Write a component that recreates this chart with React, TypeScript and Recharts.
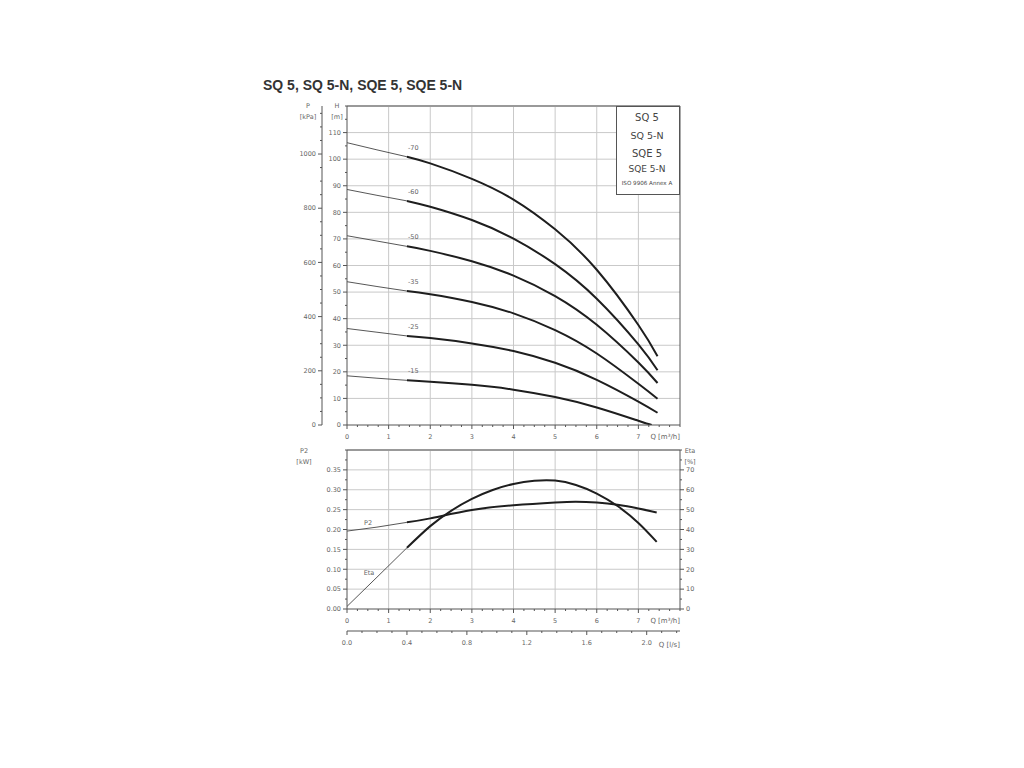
import React from "react";
import { LineChart, Line, XAxis, YAxis, CartesianGrid, ReferenceLine } from "recharts";

// ---- data ----
const flowLabels = [0, 1, 2, 3, 4, 5, 6, 7];
const flowGrid = [1, 2, 3, 4, 5, 6, 7];
const litreLabels = [0, 0.4, 0.8, 1.2, 1.6, 2.0];

const headLabels = [0, 10, 20, 30, 40, 50, 60, 70, 80, 90, 100, 110];
const kpaLabels = [0, 200, 400, 600, 800, 1000];
const p2Labels = [0, 0.05, 0.1, 0.15, 0.2, 0.25, 0.3, 0.35];
const etaLabels = [0, 10, 20, 30, 40, 50, 60, 70];

const curveNames = ["-70", "-60", "-50", "-35", "-25", "-15"];
const headQ = [0, 0.72, 1.44, 2, 3, 4, 5, 6, 7];
const head70 = [106.2, 103.5, 100.9, 98.4, 92.6, 84.8, 73.6, 58.4, 37.6];
const head60 = [88.6, 86.4, 84.3, 82.1, 77.1, 70.1, 60.5, 47.5, 30.3];
const head50 = [71.2, 69.2, 67.2, 65.5, 61.6, 56.2, 48.5, 37.7, 23.5];
const head35 = [53.9, 52.1, 50.4, 49.2, 46.3, 42.0, 35.7, 26.9, 15.5];
const head25 = [36.3, 34.9, 33.5, 32.7, 30.7, 27.8, 23.4, 17.0, 8.8];
const head15 = [18.5, 17.6, 16.8, 16.3, 15.1, 13.3, 10.5, 6.6, 1.6];
const headEndQ = [7.46, 7.46, 7.46, 7.46, 7.46, 7.32];
const headEndH = [25.9, 20.6, 15.8, 9.9, 4.6, 0];

const p2Q = [0, 0.72, 1.44, 2, 3, 4, 5, 5.5, 6, 6.5, 7, 7.44];
const p2Kw = [0.196, 0.206, 0.218, 0.228, 0.249, 0.261, 0.268, 0.27, 0.268, 0.2625, 0.253, 0.243];
const etaQ = [0, 0.72, 1.44, 2, 2.5, 3, 3.5, 4, 4.5, 5, 5.5, 6, 6.5, 7, 7.44];
const etaPct = [1.3, 16, 30.8, 41.7, 49.4, 55.4, 59.9, 62.9, 64.5, 64.6, 62.4, 58.1, 51.8, 43.3, 33.8];

const BREAK_Q = 1.44; // thin below, thick above (0.4 l/s)
const KPA_PER_M = 9.81;
const M3H_PER_LS = 3.6;
const heads = [head70, head60, head50, head35, head25, head15];

const FONT = "'DejaVu Sans', sans-serif";
const AXIS = "#555";
const GRID = "#c9c9c9";
const TXT = "#666";

const steps = (max: number, step: number) => {
  const out: number[] = [];
  for (let v = 0; v <= max + 1e-9; v += step) out.push(Math.round(v * 1000) / 1000);
  return out;
};
const near = (a: number[], v: number) => a.some((t) => Math.abs(t - v) < 1e-6);

function makeTick(side: "left" | "right" | "bottom", labels: number[], fmt: (v: number) => string) {
  return (props: any) => {
    const { x, y, payload } = props;
    const v = payload.value;
    const lab = near(labels, v);
    const len = lab ? 4 : 2;
    const t = { fontSize: 6.5, fill: TXT, fontFamily: FONT };
    if (side === "left")
      return (
        <g>
          <line x1={x - len} x2={x} y1={y} y2={y} stroke={AXIS} />
          {lab && <text x={x - 6} y={y} dy="0.35em" textAnchor="end" {...t}>{fmt(v)}</text>}
        </g>
      );
    if (side === "right")
      return (
        <g>
          <line x1={x} x2={x + len} y1={y} y2={y} stroke={AXIS} />
          {lab && <text x={x + 6} y={y} dy="0.35em" textAnchor="start" {...t}>{fmt(v)}</text>}
        </g>
      );
    return (
      <g>
        <line x1={x} x2={x} y1={y} y2={y + len} stroke={AXIS} />
        {lab && <text x={x} y={y + 14} textAnchor="middle" {...t}>{fmt(v)}</text>}
      </g>
    );
  };
}

const curves = curveNames.map((name, i) => {
  const pts = headQ.map((q, j) => ({ q, h: heads[i][j] }));
  pts.push({ q: headEndQ[i], h: headEndH[i] });
  return {
    name,
    thin: pts.filter((p) => p.q <= BREAK_Q),
    thick: pts.filter((p) => p.q >= BREAK_Q),
  };
});
// same top curve in kPa, only to give the pressure axis its scale
const kpaPts = curves[0].thick.map((p) => ({ q: p.q, kpa: p.h * KPA_PER_M }));

const p2Pts = p2Q.map((q, i) => ({ q, ls: q / M3H_PER_LS, v: p2Kw[i] }));
const etaPts = etaQ.map((q, i) => ({ q, v: etaPct[i] }));

function Txt({ x, y, size = 6.5, children, align = "center", bold = false, family = FONT, color = TXT }: any) {
  const shift = align === "center" ? "-50%" : align === "right" ? "-100%" : "0";
  return (
    <div
      style={{
        position: "absolute",
        left: x,
        top: y,
        transform: `translate(${shift}, -50%)`,
        fontSize: size,
        fontFamily: family,
        fontWeight: bold ? 700 : 400,
        color,
        whiteSpace: "nowrap",
        lineHeight: 1,
      }}
    >
      {children}
    </div>
  );
}

const curveLabel = (name: string) => (p: any) =>
  p.index === 0 ? (
    <text x={p.x + 1} y={p.y - 7} fontSize={6.5} fill={TXT} fontFamily={FONT}>
      {name}
    </text>
  ) : (
    <g />
  );

export default function App() {
  const qTicks = steps(8, 0.25);
  return (
    <div style={{ position: "absolute", left: 0, top: 0, width: 1024, height: 768, background: "#fff" }}>
      <Txt x={263} y={85} size={14} bold align="left" family="'Liberation Sans', Arial, sans-serif" color="#333">
        SQ 5, SQ 5-N, SQE 5, SQE 5-N
      </Txt>

      {/* head chart */}
      <div style={{ position: "absolute", left: 0, top: 0 }}>
        <LineChart width={1024} height={460} margin={{ top: 106, right: 344, bottom: 15, left: 282 }}>
          <CartesianGrid
            xAxisId="q"
            yAxisId="h"
            stroke={GRID}
            horizontalValues={headLabels.slice(1)}
            verticalValues={flowGrid}
          />
          <XAxis
            xAxisId="q"
            type="number"
            dataKey="q"
            domain={[0, 8]}
            ticks={qTicks}
            interval={0}
            height={20}
            tickSize={0}
            tickMargin={0}
            stroke={AXIS}
            tick={makeTick("bottom", flowLabels, (v) => String(v))}
          />
          <YAxis
            yAxisId="h"
            type="number"
            domain={[0, 120]}
            allowDataOverflow
            ticks={steps(120, 5)}
            interval={0}
            width={25}
            tickSize={0}
            tickMargin={0}
            stroke={AXIS}
            tick={makeTick("left", headLabels, (v) => String(v))}
          />
          <YAxis
            yAxisId="kpa"
            type="number"
            domain={[0, 120 * KPA_PER_M]}
            allowDataOverflow
            ticks={steps(1150, 50)}
            interval={0}
            width={40}
            tickSize={0}
            tickMargin={0}
            stroke={AXIS}
            tick={makeTick("left", kpaLabels, (v) => String(v))}
          />
          <ReferenceLine xAxisId="q" yAxisId="h" y={120} stroke="#999" strokeWidth={2} />
          <ReferenceLine xAxisId="q" yAxisId="h" x={8} stroke={AXIS} />
          <Line
            xAxisId="q"
            yAxisId="kpa"
            data={kpaPts}
            dataKey="kpa"
            stroke="none"
            dot={false}
            activeDot={false}
            isAnimationActive={false}
          />
          {curves.map((c) => (
            <Line
              key={c.name + "a"}
              xAxisId="q"
              yAxisId="h"
              data={c.thin}
              dataKey="h"
              type="linear"
              stroke="#444"
              strokeWidth={0.9}
              dot={false}
              isAnimationActive={false}
            />
          ))}
          {curves.map((c) => (
            <Line
              key={c.name + "b"}
              xAxisId="q"
              yAxisId="h"
              data={c.thick}
              dataKey="h"
              type="natural"
              stroke="#1e1e1e"
              strokeWidth={2}
              dot={false}
              label={curveLabel(c.name)}
              isAnimationActive={false}
            />
          ))}
        </LineChart>
      </div>

      {/* power / efficiency chart */}
      <div style={{ position: "absolute", left: 0, top: 430 }}>
        <LineChart width={1024} height={250} margin={{ top: 20, right: 304, bottom: 24, left: 297 }}>
          <CartesianGrid
            xAxisId="flow"
            yAxisId="p2"
            stroke={GRID}
            horizontalValues={p2Labels.slice(1)}
            verticalValues={flowGrid}
          />
          <XAxis
            xAxisId="flow"
            type="number"
            dataKey="q"
            domain={[0, 8]}
            ticks={qTicks}
            interval={0}
            height={22}
            tickSize={0}
            tickMargin={0}
            stroke={AXIS}
            tick={makeTick("bottom", flowLabels, (v) => String(v))}
          />
          <XAxis
            xAxisId="litre"
            type="number"
            dataKey="ls"
            domain={[0, 8 / M3H_PER_LS]}
            allowDataOverflow
            ticks={steps(2.2, 0.1)}
            interval={0}
            height={25}
            tickSize={0}
            tickMargin={0}
            stroke={AXIS}
            tick={makeTick("bottom", litreLabels, (v) => v.toFixed(1))}
          />
          <YAxis
            yAxisId="p2"
            type="number"
            domain={[0, 0.4]}
            allowDataOverflow
            ticks={steps(0.4, 0.025)}
            interval={0}
            width={50}
            tickSize={0}
            tickMargin={0}
            stroke={AXIS}
            tick={makeTick("left", p2Labels, (v) => v.toFixed(2))}
          />
          <YAxis
            yAxisId="eta"
            orientation="right"
            type="number"
            domain={[0, 80]}
            allowDataOverflow
            ticks={steps(80, 5)}
            interval={0}
            width={40}
            tickSize={0}
            tickMargin={0}
            stroke={AXIS}
            tick={makeTick("right", etaLabels, (v) => String(v))}
          />
          <ReferenceLine xAxisId="flow" yAxisId="p2" y={0.4} stroke="#999" strokeWidth={2} />
          <Line
            xAxisId="litre"
            yAxisId="p2"
            data={p2Pts}
            dataKey="v"
            stroke="none"
            dot={false}
            activeDot={false}
            isAnimationActive={false}
          />
          <Line
            xAxisId="flow"
            yAxisId="p2"
            data={p2Pts.filter((p) => p.q <= BREAK_Q)}
            dataKey="v"
            type="linear"
            stroke="#444"
            strokeWidth={0.9}
            dot={false}
            isAnimationActive={false}
          />
          <Line
            xAxisId="flow"
            yAxisId="p2"
            data={p2Pts.filter((p) => p.q >= BREAK_Q)}
            dataKey="v"
            type="natural"
            stroke="#1e1e1e"
            strokeWidth={2}
            dot={false}
            isAnimationActive={false}
          />
          <Line
            xAxisId="flow"
            yAxisId="eta"
            data={etaPts.filter((p) => p.q <= BREAK_Q)}
            dataKey="v"
            type="linear"
            stroke="#444"
            strokeWidth={0.9}
            dot={false}
            isAnimationActive={false}
          />
          <Line
            xAxisId="flow"
            yAxisId="eta"
            data={etaPts.filter((p) => p.q >= BREAK_Q)}
            dataKey="v"
            type="natural"
            stroke="#1e1e1e"
            strokeWidth={2}
            dot={false}
            isAnimationActive={false}
          />
        </LineChart>
      </div>

      {/* axis titles */}
      <Txt x={308} y={106}>P</Txt>
      <Txt x={308} y={117}>[kPa]</Txt>
      <Txt x={337} y={106}>H</Txt>
      <Txt x={337} y={117}>[m]</Txt>
      <Txt x={680} y={437} size={7} align="right">Q [m³/h]</Txt>

      <Txt x={304} y={451}>P2</Txt>
      <Txt x={304} y={462}>[kW]</Txt>
      <Txt x={690} y={451}>Eta</Txt>
      <Txt x={690} y={462}>[%]</Txt>
      <Txt x={680} y={621} size={7} align="right">Q [m³/h]</Txt>
      <Txt x={680} y={645} size={7} align="right">Q [l/s]</Txt>
      <Txt x={368} y={523}>P2</Txt>
      <Txt x={369} y={573}>Eta</Txt>

      {/* model box */}
      <div
        style={{
          position: "absolute",
          left: 616,
          top: 106,
          width: 64,
          height: 89,
          border: `1px solid ${AXIS}`,
          background: "#fff",
          boxSizing: "border-box",
        }}
      />
      <Txt x={647} y={118} size={10} color="#444">SQ 5</Txt>
      <Txt x={647} y={136} size={9.5} color="#444">SQ 5-N</Txt>
      <Txt x={647} y={154} size={10} color="#444">SQE 5</Txt>
      <Txt x={647} y={169} size={9} color="#444">SQE 5-N</Txt>
      <Txt x={647} y={184} size={5.6} color="#444">ISO 9906 Annex A</Txt>
    </div>
  );
}
